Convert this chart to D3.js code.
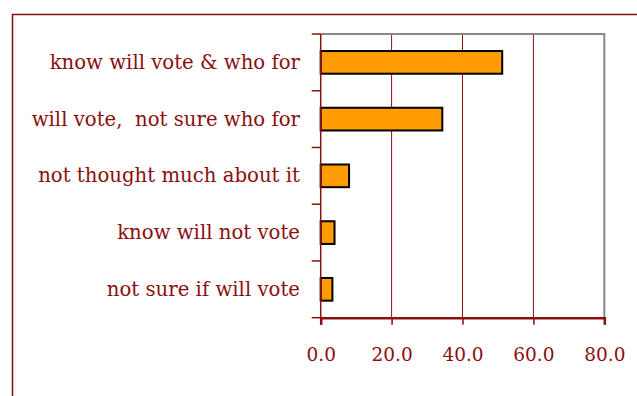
<!DOCTYPE html>
<html><head><meta charset="utf-8">
<script src="https://cdn.jsdelivr.net/npm/d3@7"></script>
<style>body{margin:0;background:#fff}svg{display:block}</style>
</head><body>
<script>
const categories = ["know will vote & who for","will vote,  not sure who for","not thought much about it","know will not vote","not sure if will vote"];
const values = [51.2, 34.3, 8.0, 3.9, 3.3];
const xTicks = [0, 20, 40, 60, 80];

const W = 637, H = 396;
const red = "#8b0f0f";
const svg = d3.select("body").append("svg").attr("width", W).attr("height", H);

// outer frame
svg.append("rect").attr("x", 12.5).attr("y", 14.5).attr("width", 700).attr("height", 500)
  .attr("fill", "none").attr("stroke", red).attr("stroke-width", 1.5);

const m = {l: 320.7, r: 604.3, t: 34, b: 317.7};
const x = d3.scaleLinear().domain([0, 80]).range([m.l, m.r]);
const y = d3.scaleBand().domain(categories).range([m.t, m.b]).paddingInner(0.6).paddingOuter(0.3);
const yb = d3.scaleBand().domain(categories).range([m.t, m.b]);

// gridlines
svg.append("g").selectAll("line").data(xTicks.slice(1, -1)).join("line")
  .attr("x1", d => x(d)).attr("x2", d => x(d)).attr("y1", m.t).attr("y2", m.b)
  .attr("stroke", red).attr("stroke-width", 1);

// plot border top/right gray
svg.append("path").attr("d", `M${m.l},${m.t}H${m.r}V${m.b}`)
  .attr("fill", "none").attr("stroke", "#888").attr("stroke-width", 2);

// bars
svg.append("g").selectAll("rect").data(values).join("rect")
  .attr("x", x(0)).attr("y", (d, i) => y(categories[i]))
  .attr("width", d => x(d) - x(0)).attr("height", y.bandwidth())
  .attr("fill", "#ff9c00").attr("stroke", "#000").attr("stroke-width", 2);

// y axis
const yAxisG = svg.append("g");
yAxisG.append("line").attr("x1", m.l).attr("x2", m.l).attr("y1", m.t).attr("y2", m.b)
  .attr("stroke", red).attr("stroke-width", 1.5);
const bounds = categories.map(c => yb(c)).concat([m.b]);
yAxisG.selectAll("line.t").data(bounds).join("line").attr("class", "t")
  .attr("x1", m.l - 9).attr("x2", m.l).attr("y1", d => d).attr("y2", d => d)
  .attr("stroke", red).attr("stroke-width", 1.5);
yAxisG.selectAll("text").data(categories).join("text")
  .attr("x", 300).attr("y", d => yb(d) + yb.bandwidth() / 2 + 6.5)
  .attr("text-anchor", "end").attr("fill", red)
  .attr("font-family", "'DejaVu Serif', serif").attr("font-size", 19.7)
  .style("white-space", "pre")
  .text(d => d);

// x axis
const xAxis = d3.axisBottom(x).tickValues(xTicks).tickFormat(d3.format(".1f")).tickSize(7).tickPadding(23);
const xg = svg.append("g").attr("transform", `translate(0,${m.b})`).call(xAxis);
xg.select(".domain").attr("stroke", red).attr("stroke-width", 2.5);
xg.selectAll(".tick line").attr("stroke", red).attr("stroke-width", 1.5);
xg.selectAll("text").attr("fill", red).attr("font-family", "'DejaVu Serif', serif").attr("font-size", 18.5);
</script>
</body></html>
